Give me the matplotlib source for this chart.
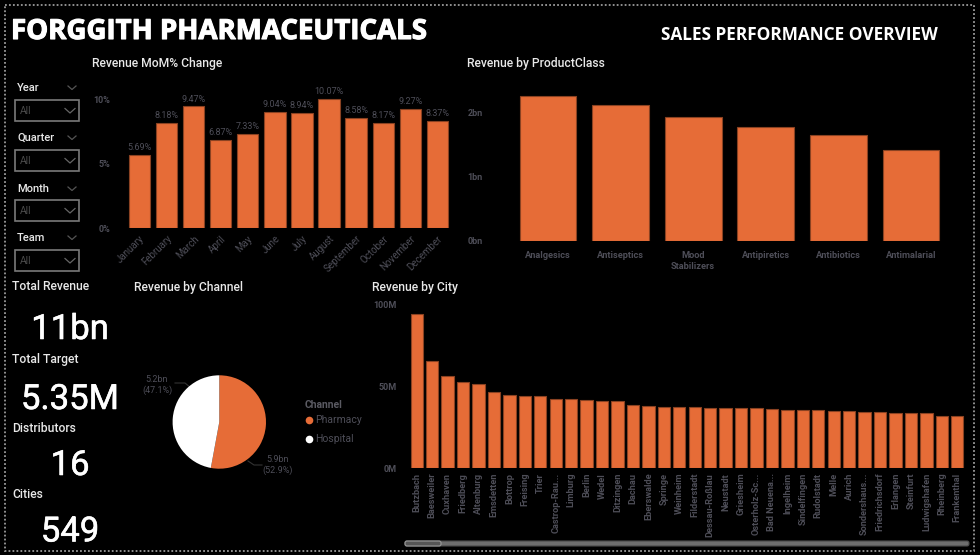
import matplotlib
matplotlib.use("Agg")
import matplotlib.pyplot as plt
import matplotlib.patheffects as pe
from matplotlib.patches import Rectangle, FancyBboxPatch

months = ["January", "February", "March", "April", "May", "June", "July", "August",
          "September", "October", "November", "December"]
mom_change = [5.69, 8.18, 9.47, 6.87, 7.33, 9.04, 8.94, 10.07, 8.58, 8.17, 9.27, 8.37]

product_classes = ["Analgesics", "Antiseptics", "Mood\nStabilizers", "Antipiretics", "Antibiotics", "Antimalarial"]
product_revenue = [2.255, 2.115, 1.94, 1.78, 1.655, 1.41]

cities = ["Butzbach", "Baesweiler", "Cuxhaven", "Friedberg", "Altenburg", "Emsdetten", "Bottrop",
          "Freising", "Trier", "Castrop-Rau...", "Limburg", "Berlin", "Wedel", "Ditzingen", "Dachau",
          "Eberswalde", "Springe", "Weinheim", "Filderstadt", "Dessau-Roßlau", "Neustadt", "Griesheim",
          "Osterholz-Sc...", "Bad Neuena...", "Ingelheim", "Sindelfingen", "Rudolstadt", "Melle", "Aurich",
          "Sondershaus...", "Friedrichsdorf", "Erlangen", "Steinfurt", "Ludwigshafen", "Rheinberg", "Frankenthal"]
city_revenue = [94, 65.2, 56.5, 52.6, 51.4, 46.3, 44.9, 44.2, 43.8, 42.4, 42, 41.4, 40.8, 40.8, 38.3, 37.9,
                37.5, 37.3, 37.1, 36.7, 36.7, 36.5, 36.5, 36.3, 35.5, 35.3, 35.3, 35.1, 34.9, 34.2, 34,
                33.6, 33.4, 33.4, 32, 32]

channels = ["Pharmacy", "Hospital"]
channel_share = [52.9, 47.1]

slicers = ["Year", "Quarter", "Month", "Team"]
cards = ["Total Revenue", "Total Target", "Distributors", "Cities"]
card_values = ["11bn", "5.35M", "16", "549"]

ORANGE = "#E66C37"
EDGE = "#8A4222"
DIM = "#4E4E58"
W, H = 980, 555

plt.rcParams["font.family"] = ["Roboto", "DejaVu Sans"]
fig = plt.figure(figsize=(W / 100, H / 100), dpi=100, facecolor="black")


def px_axes(left, top, right, bottom):
    ax = fig.add_axes([left / W, 1 - bottom / H, (right - left) / W, (bottom - top) / H])
    ax.set_facecolor("none")
    for s in ax.spines.values():
        s.set_visible(False)
    return ax


def bars(ax, values, names, ymax, ticks, ticklabels, width, pad):
    ax.bar(range(len(values)), values, width, color=ORANGE, edgecolor=EDGE, linewidth=0.8)
    ax.set_xlim(-0.5, len(values) - 0.5)
    ax.set_ylim(0, ymax)
    ax.set_xticks(range(len(values)))
    ax.set_xticklabels(names)
    ax.set_yticks(ticks)
    ax.set_yticklabels(ticklabels, fontsize=6.5, color=DIM, fontweight="bold")
    ax.tick_params(axis="both", length=0)
    ax.tick_params(axis="y", pad=pad)


# overlay in pixel coordinates, for the page furniture
page = fig.add_axes([0, 0, 1, 1])
page.set_xlim(0, W)
page.set_ylim(H, 0)
page.axis("off")
page.add_patch(Rectangle((5, 5), 968.5, 546, fill=False, edgecolor="#9A9A9A", linewidth=1.3, linestyle=(0, (1, 1.2))))

page.text(11, 31.5, "FORGGITH PHARMACEUTICALS", family="Open Sans", fontweight="bold", fontsize=19.9, color="white",
          va="center", path_effects=[pe.withStroke(linewidth=0.8, foreground="white")])
page.text(661, 35, "SALES PERFORMANCE OVERVIEW", family="Open Sans", fontweight="bold", fontsize=12.4,
          color="white", va="center")

for label, x, y in [("Revenue MoM% Change", 92, 63), ("Revenue by ProductClass", 467, 63),
                    ("Revenue by Channel", 134, 287), ("Revenue by City", 372, 287)]:
    page.text(x, y, label, fontsize=8.7, fontweight="medium", color="#E8E8E8", va="center")

# slicers
for name, ly, by in zip(slicers, [88, 138, 189, 238], [100, 150, 200, 250]):
    page.text(17, ly, name, fontsize=8, fontweight="medium", color="#E8E8E8", va="center")
    page.plot([68, 72, 76], [ly - 2, ly + 1.5, ly - 2], color="#555555", lw=0.9)
    page.add_patch(Rectangle((15, by), 64, 21, fill=False, edgecolor="#7A7A7A", linewidth=1.2))
    page.text(20, by + 11, "All", fontsize=7.5, color="#4A4A4A", va="center")
    page.plot([65, 70, 75], [by + 8.5, by + 13, by + 8.5], color="#666666", lw=0.9)

# cards
for name, ly, value, vy in zip(cards, [287, 360, 428, 495], card_values, [329.5, 399.5, 465.5, 532]):
    page.text(12, ly, name, fontsize=8.7, fontweight="medium", color="#E8E8E8", va="center")
    page.text(70, vy, value, fontsize=25, color="white", ha="center", va="center",
              path_effects=[pe.withStroke(linewidth=0.4, foreground="white")])

# scrollbar under the city chart
page.add_patch(FancyBboxPatch((405, 541), 564, 5, boxstyle="round,pad=0,rounding_size=2",
                              facecolor="#6E6E6E", edgecolor="#4A4A4A", linewidth=0.8))
page.add_patch(FancyBboxPatch((405, 541), 36, 5, boxstyle="round,pad=0,rounding_size=2",
                              facecolor="#555555", edgecolor="#9A9A9A", linewidth=0.8))

# MoM change
ax = px_axes(125.8, 74, 451, 228)
bars(ax, mom_change, months, 12, [0, 5, 10], ["0%", "5%", "10%"], 0.79, 11.4)
ax.set_xticklabels(months, rotation=45, ha="right", rotation_mode="anchor", fontsize=7, color=DIM)
ax.tick_params(axis="x", pad=4)
ax.bar_label(ax.containers[0], fmt="%.2f%%", fontsize=6.5, color=DIM, padding=2)

# product class
ax = px_axes(511.7, 80.7, 947.3, 240.7)
bars(ax, product_revenue, product_classes, 2.5, [0, 1, 2], ["0bn", "1bn", "2bn"], 0.78, 20.7)
ax.set_xticklabels(product_classes, fontsize=6.7, color=DIM, fontweight="bold")
ax.tick_params(axis="x", pad=7.5)

# city
ax = px_axes(409, 304.5, 965, 468)
bars(ax, city_revenue, cities, 100, [0, 50, 100], ["0M", "50M", "100M"], 0.8, 8.6)
ax.set_xticklabels(cities, rotation=90, fontsize=6.7, color=DIM, fontweight="bold")
ax.tick_params(axis="x", pad=3.5)

# channel pie
ax = px_axes(172.6, 375.3, 266, 468.7)
ax.pie(channel_share, colors=[ORANGE, "white"], startangle=90, counterclock=False, radius=1,
       wedgeprops={"linewidth": 0})
ax.set_xlim(-1, 1)
ax.set_ylim(-1, 1)

page.plot([175, 185, 191], [383, 383, 388], color="#333333", lw=0.8)
page.plot([248, 254, 262], [461, 465, 465], color="#333333", lw=0.8)
page.text(157, 385, f"5.2bn\n({channel_share[1]}%)", fontsize=6.5, color=DIM, ha="center", va="center", linespacing=1.1)
page.text(278, 465, f"5.9bn\n({channel_share[0]}%)", fontsize=6.5, color=DIM, ha="center", va="center", linespacing=1.1)

page.text(305, 405, "Channel", fontsize=7.5, fontweight="bold", color="#5A5A62", va="center")
for name, color, y in zip(channels, [ORANGE, "white"], [420, 439]):
    page.plot([309], [y], marker="o", ms=5.5, color=color, mew=0)
    page.text(315, y, name, fontsize=7.5, color=DIM, va="center")

fig.savefig("out.png", dpi=100, facecolor="black")
